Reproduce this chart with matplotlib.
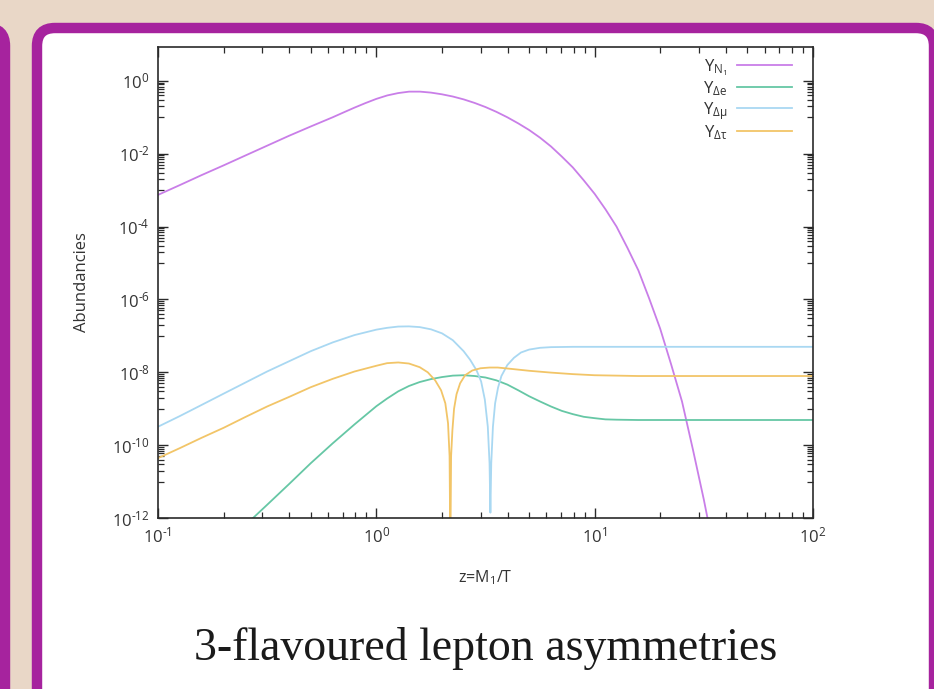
import matplotlib
matplotlib.use("Agg")
import matplotlib.pyplot as plt
import matplotlib.patches as mpatches
from matplotlib.ticker import LogLocator, FixedLocator, NullFormatter, FuncFormatter
import numpy as np

plt.rcParams["font.family"] = ["Open Sans", "DejaVu Sans"]
plt.rcParams["mathtext.fontset"] = "custom"
plt.rcParams["mathtext.rm"] = "Open Sans"
plt.rcParams["mathtext.it"] = "Open Sans:italic"
plt.rcParams["axes.unicode_minus"] = False

# Y_N1
z_n1 = [0.1, 0.126, 0.158, 0.2, 0.251, 0.316, 0.398, 0.501, 0.631, 0.708,
        0.794, 0.891, 1.0, 1.122, 1.259, 1.413, 1.585, 1.778, 1.995, 2.239,
        2.512, 2.818, 3.162, 3.548, 3.981, 4.467, 5.012, 5.623, 6.31, 7.079,
        7.943, 8.913, 10.0, 11.22, 12.59, 14.13, 15.85, 17.78, 19.95, 22.39,
        25.12, 28.18, 31.62, 35.48]
y_n1 = [7.4e-4, 1.38e-3, 2.57e-3, 4.8e-3, 8.9e-3, 1.66e-2, 3.1e-2, 5.6e-2, 0.100, 0.136,
        0.184, 0.245, 0.320, 0.398, 0.462, 0.506, 0.506, 0.476, 0.428, 0.372,
        0.310, 0.248, 0.191, 0.141, 0.100, 0.068, 0.0447, 0.0275, 0.0158, 8.3e-3,
        4.2e-3, 1.86e-3, 7.9e-4, 2.95e-4, 1.0e-4, 2.6e-5, 6.3e-6, 1.05e-6, 1.58e-7, 1.66e-8,
        1.58e-9, 7.6e-11, 3.2e-12, 1e-13]

# Y_Delta_e
z_e = [0.251, 0.316, 0.398, 0.501, 0.631, 0.794, 1.0, 1.12, 1.26, 1.41,
       1.58, 1.78, 2.0, 2.24, 2.51, 2.82, 3.16, 3.55, 3.98, 4.47,
       5.01, 5.62, 6.31, 7.08, 7.94, 8.91, 10.0, 11.2, 12.6, 15.8,
       100.0]
y_e = [6.3e-13, 2.3e-12, 8.5e-12, 3.2e-11, 1.12e-10, 3.7e-10, 1.17e-9, 1.9e-9, 3.0e-9, 4.2e-9,
       5.4e-9, 6.5e-9, 7.4e-9, 8.1e-9, 8.3e-9, 7.9e-9, 7.2e-9, 6.0e-9, 4.6e-9, 3.2e-9,
       2.2e-9, 1.58e-9, 1.15e-9, 8.7e-10, 7.1e-10, 6.0e-10, 5.5e-10, 5.1e-10, 5.0e-10, 4.9e-10,
       4.9e-10]

# Y_Delta_mu
z_mu = [0.1, 0.126, 0.158, 0.2, 0.251, 0.316, 0.398, 0.501, 0.631, 0.794,
        1.0, 1.12, 1.26, 1.41, 1.58, 1.78, 2.0, 2.24, 2.51, 2.69,
        2.88, 3.02, 3.14, 3.24, 3.30, 3.33, 3.36, 3.42, 3.50, 3.61,
        3.74, 3.98, 4.27, 4.6, 5.01, 5.62, 6.31, 7.94, 100.0]
y_mu = [3.2e-10, 6.3e-10, 1.26e-9, 2.6e-9, 5.2e-9, 1.05e-8, 2.0e-8, 3.8e-8, 6.6e-8, 1.05e-7,
        1.48e-7, 1.66e-7, 1.80e-7, 1.82e-7, 1.74e-7, 1.51e-7, 1.17e-7, 7.6e-8, 3.8e-8, 2.2e-8,
        1.12e-8, 5.6e-9, 1.78e-9, 3.2e-10, 3.2e-11, 1.4e-12, 3.2e-11, 3.2e-10, 1.41e-9, 3.8e-9,
        7.9e-9, 1.58e-8, 2.5e-8, 3.5e-8, 4.2e-8, 4.7e-8, 4.9e-8, 5.0e-8, 5.0e-8]

# Y_Delta_tau
z_tau = [0.1, 0.126, 0.158, 0.2, 0.251, 0.316, 0.398, 0.501, 0.631, 0.794,
         1.0, 1.12, 1.26, 1.41, 1.58, 1.72, 1.86, 1.98, 2.07, 2.13,
         2.165, 2.183, 2.20, 2.23, 2.27, 2.33, 2.42, 2.55, 2.75, 3.0,
         3.3, 3.6, 4.2, 5.01, 6.31, 7.94, 10.0, 12.6, 15.8, 100.0]
y_tau = [4.4e-11, 8.3e-11, 1.58e-10, 3.0e-10, 5.9e-10, 1.15e-9, 2.1e-9, 3.9e-9, 6.6e-9, 1.05e-8,
         1.51e-8, 1.78e-8, 1.86e-8, 1.74e-8, 1.38e-8, 1.0e-8, 6.0e-9, 3.2e-9, 1.41e-9, 4.0e-10,
         5.0e-11, 1e-13, 5.0e-11, 2.5e-10, 1.0e-9, 2.5e-9, 5.0e-9, 8.3e-9, 1.12e-8, 1.29e-8,
         1.35e-8, 1.35e-8, 1.23e-8, 1.10e-8, 9.8e-9, 8.9e-9, 8.3e-9, 8.1e-9, 7.9e-9, 7.9e-9]

labels = [r"$\mathrm{Y}_{\mathrm{N_1}}$", r"$\mathrm{Y}_{\mathrm{Δe}}$",
          r"$\mathrm{Y}_{\mathrm{Δμ}}$", r"$\mathrm{Y}_{\mathrm{Δτ}}$"]
colors = ["#c97ee8", "#66c7a5", "#a9d8f2", "#f2c568"]


def pow10_label(v, pos):
    # gnuplot-style exponent with a plain hyphen
    k = int(round(np.log10(v)))
    exp = r"\text{-}%d" % -k if k < 0 else "%d" % k
    return r"$\mathdefault{10^{%s}}$" % exp


W, H = 934, 689
fig = plt.figure(figsize=(W / 100, H / 100), dpi=100)
fig.patch.set_facecolor("#e9d7c7")

# background cards
bg = fig.add_axes([0, 0, 1, 1])
bg.set_xlim(0, W)
bg.set_ylim(H, 0)
bg.axis("off")
purple = "#a6239e"
bg.add_patch(mpatches.FancyBboxPatch((-300, 28), 305, 700,
                                     boxstyle="round,pad=0,rounding_size=18",
                                     facecolor="white", edgecolor=purple, lw=7.5))
bg.add_patch(mpatches.FancyBboxPatch((37, 28), 897, 700,
                                     boxstyle="round,pad=0,rounding_size=18",
                                     facecolor="white", edgecolor=purple, lw=7.5))
bg.text(486, 649, "3-flavoured lepton asymmetries", ha="center", va="center",
        fontsize=33, family="Liberation Serif", color="#1a1a1a")

ax = fig.add_axes([158 / W, 1 - 518 / H, 655 / W, 471 / H])
ax.set_facecolor("none")
for z, y, c, lab in zip([z_n1, z_e, z_mu, z_tau], [y_n1, y_e, y_mu, y_tau], colors, labels):
    ax.plot(z, y, color=c, lw=1.3, label=lab)

ax.set_xscale("log")
ax.set_yscale("log")
ax.set_xlim(0.1, 100)
ax.set_ylim(1e-12, 8.5)

ax.xaxis.set_major_locator(LogLocator(base=10, numticks=10))
ax.xaxis.set_minor_locator(LogLocator(base=10, subs=np.arange(2, 10), numticks=20))
ax.xaxis.set_minor_formatter(NullFormatter())
ax.yaxis.set_major_locator(FixedLocator([10.0 ** k for k in range(-12, 1, 2)]))
ax.yaxis.set_minor_locator(FixedLocator([m * 10.0 ** k for k in range(-11, 1, 2)
                                         for m in range(1, 10)]))
ax.yaxis.set_minor_formatter(NullFormatter())
ax.xaxis.set_major_formatter(FuncFormatter(pow10_label))
ax.yaxis.set_major_formatter(FuncFormatter(pow10_label))

ax.tick_params(which="both", direction="in", top=True, right=True,
               color="#2a2a2a", labelcolor="#333333", labelsize=12)
ax.tick_params(which="major", length=7, width=1.0, pad=6)
ax.tick_params(which="minor", length=4, width=0.9)
for s in ax.spines.values():
    s.set_linewidth(1.2)
    s.set_color("#2a2a2a")

ax.set_xlabel(r"z=M$_\mathrm{1}$/T", fontsize=11.5, color="#333333")
ax.set_ylabel("Abundancies", fontsize=12, color="#333333")
ax.xaxis.set_label_coords(0.5, (518 - 578) / 471)
ax.xaxis.label.set_va("center")
ax.yaxis.set_label_coords((82 - 158) / 655, 0.5)
ax.yaxis.label.set_va("center")

ax.legend(loc="upper right", bbox_to_anchor=(1 - 21 / 655, 1 - 10 / 471), frameon=False,
          markerfirst=False, handlelength=3.3, handletextpad=0.6, labelspacing=0.1,
          fontsize=12, borderaxespad=0, borderpad=0, labelcolor="#333333")

fig.savefig("out.png", dpi=100, facecolor=fig.get_facecolor())
